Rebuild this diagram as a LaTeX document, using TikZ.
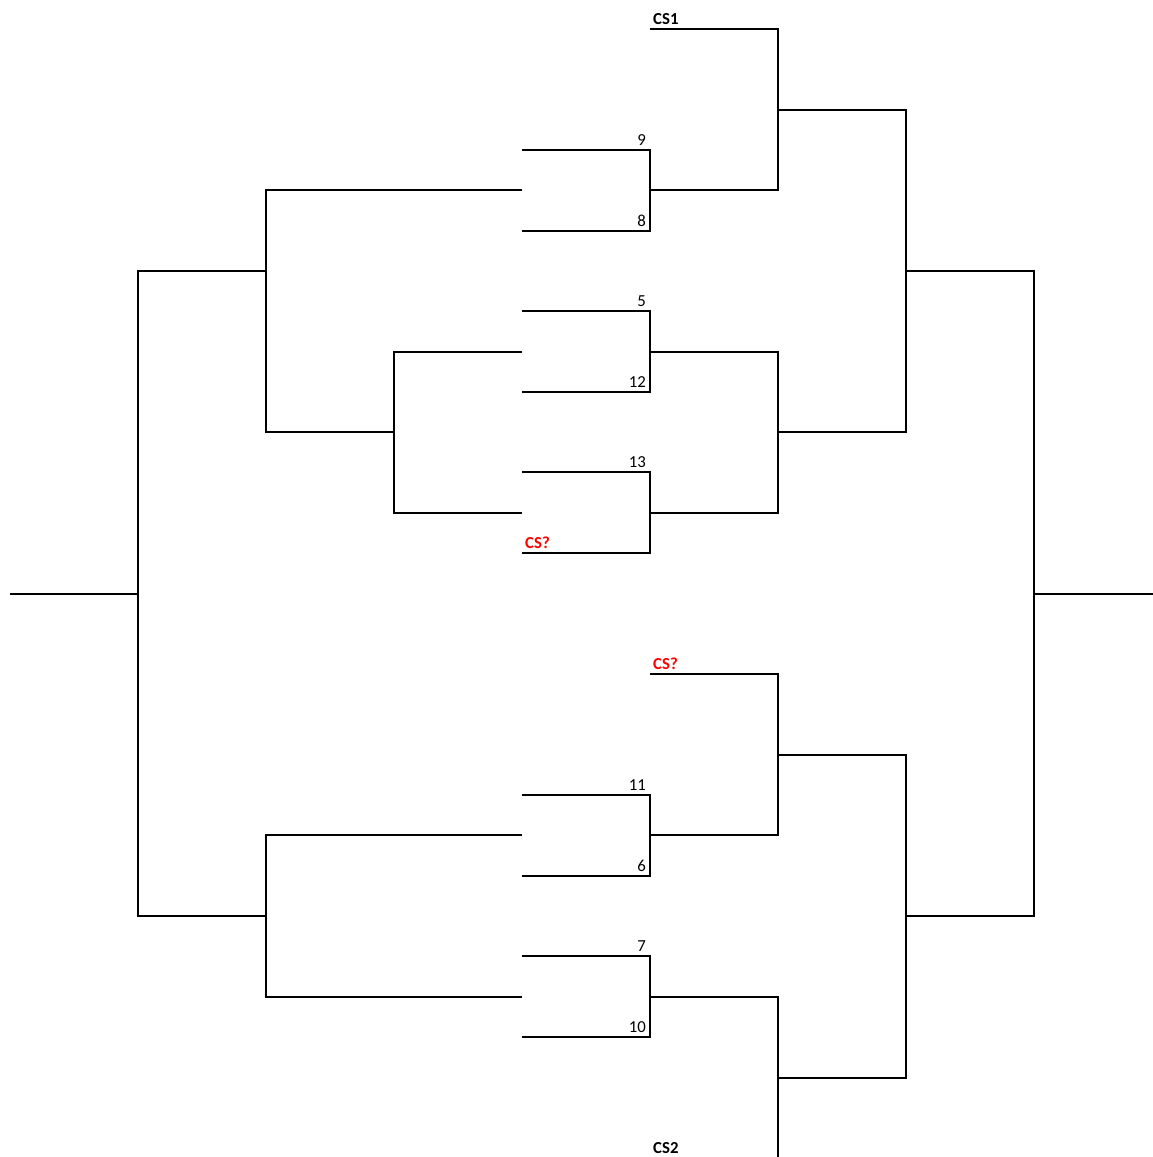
\documentclass[tikz,border=0pt]{standalone}
\usepackage{fontspec}
\setmainfont{Carlito}
\begin{document}
\begin{tikzpicture}[x=1pt,y=-1pt,
  br/.style={line width=2pt, line join=miter},
  num/.style={anchor=base east, inner sep=0pt, font=\fontsize{16.8}{17}\selectfont},
  cs/.style={anchor=base west, inner sep=0pt, font=\fontsize{16.8}{17}\selectfont\bfseries},
  csq/.style={cs, text=red}]
\clip (0,0) rectangle (1153,1157);
\fill[white] (0,0) rectangle (1153,1157);
% left side
\draw[br] (10,594) -- (138,594);
\draw[br] (266,271) -- (138,271) -- (138,916) -- (266,916);
\draw[br] (522,190) -- (266,190) -- (266,432) -- (394,432);
\draw[br] (522,352) -- (394,352) -- (394,513) -- (522,513);
\draw[br] (522,835) -- (266,835) -- (266,997) -- (522,997);
% first-round pairs
\draw[br] (522,150) -- (650,150) -- (650,231) -- (522,231);
\draw[br] (522,311) -- (650,311) -- (650,392) -- (522,392);
\draw[br] (522,472) -- (650,472) -- (650,553) -- (522,553);
\draw[br] (522,795) -- (650,795) -- (650,876) -- (522,876);
\draw[br] (522,956) -- (650,956) -- (650,1037) -- (522,1037);
% right side
\draw[br] (650,29) -- (778,29) -- (778,190) -- (650,190);
\draw[br] (650,352) -- (778,352) -- (778,513) -- (650,513);
\draw[br] (650,674) -- (778,674) -- (778,835) -- (650,835);
\draw[br] (650,997) -- (778,997) -- (778,1158) -- (650,1158);
\draw[br] (778,110) -- (906,110) -- (906,432) -- (778,432);
\draw[br] (778,755) -- (906,755) -- (906,1078) -- (778,1078);
\draw[br] (906,271) -- (1034,271) -- (1034,916) -- (906,916);
\draw[br] (1034,594) -- (1153,594);
% labels
\node[cs] (cs1) at (653,24) {CS1};
\node[num] (n9) at (646,145) {9};
\node[num] (n8) at (646,226) {8};
\node[num] (n5) at (646,306) {5};
\node[num] (n12) at (646,387) {12};
\node[num] (n13) at (646,467) {13};
\node[csq] (csqa) at (525,548) {CS?};
\node[csq] (csqb) at (653,669) {CS?};
\node[num] (n11) at (646,790) {11};
\node[num] (n6) at (646,871) {6};
\node[num] (n7) at (646,951) {7};
\node[num] (n10) at (646,1032) {10};
\node[cs] (cs2) at (653,1153) {CS2};
\end{tikzpicture}
\end{document}
